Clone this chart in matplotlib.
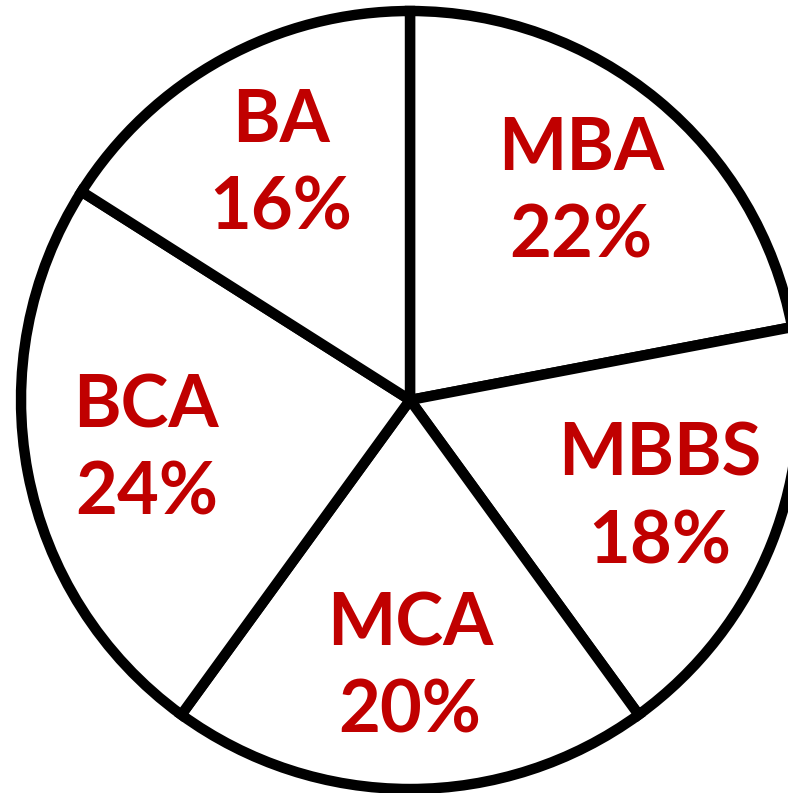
import matplotlib
matplotlib.use("Agg")
import matplotlib.pyplot as plt

# Course share, clockwise from the top
courses = ["MBA", "MBBS", "MCA", "BCA", "BA"]
shares = [22, 18, 20, 24, 16]

labels = [f"{c}\n{s}%" for c, s in zip(courses, shares)]

fig = plt.figure(figsize=(7.88, 7.93), dpi=100)
ax = fig.add_axes([0, 0, 1, 1])

wedges, texts = ax.pie(
    shares,
    labels=labels,
    startangle=90,
    counterclock=False,
    center=(410, 393),
    radius=389,
    labeldistance=0.69,
    colors=["white"] * len(shares),
    wedgeprops=dict(edgecolor="black", linewidth=7.5, joinstyle="miter"),
    textprops=dict(color="#C00000", fontsize=52, fontweight="bold",
                   family=["Lato", "DejaVu Sans"], linespacing=1.38,
                   va="center"),
    frame=True,
)
for t in texts:
    t.set_horizontalalignment("center")

ax.set_xlim(0, 788)
ax.set_ylim(0, 793)
ax.set_aspect("equal")
ax.axis("off")

fig.savefig("out.png", dpi=100)
